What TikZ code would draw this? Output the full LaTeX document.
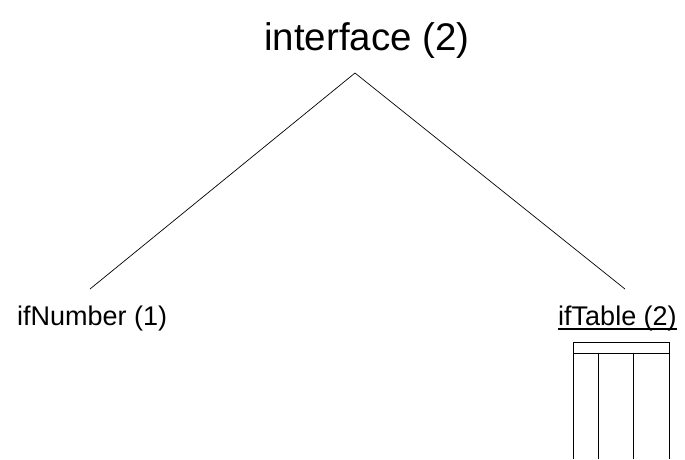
\documentclass[tikz,border=0pt]{standalone}
\usepackage{fontspec}
\setmainfont{Liberation Sans}
\begin{document}
\begin{tikzpicture}[x=1pt,y=-1pt,
  conn/.style={line width=0.7pt},
  lbl/.style={inner sep=0pt, anchor=base west, font=\fontsize{27}{30}\selectfont},
  ttl/.style={inner sep=0pt, anchor=base west, font=\fontsize{38.5}{42}\selectfont}]
\useasboundingbox[fill=white] (0,0) rectangle (685,459);
\node[ttl] (root) at (264,50) {interface (2)};
\node[lbl] (num) at (17,325) {ifNumber (1)};
\node[lbl] (tab) at (558,325) {ifTable (2)};
\draw[line width=1.3pt] ([yshift=-4pt]tab.base west) -- ([yshift=-4pt]tab.base east);
\coordinate (apex) at (355,73);
\coordinate (numtop) at (90,289);
\coordinate (tabtop) at (625,289);
\draw[conn] (numtop) -- (apex) -- (tabtop);
% table icon
\draw[conn] (573,459) -- (573,342) -- (669,342) -- (669,459);
\draw[conn] (573,353) -- (669,353);
\draw[conn] (598,353) -- (598,459);
\draw[conn] (633,353) -- (633,459);
\end{tikzpicture}
\end{document}
